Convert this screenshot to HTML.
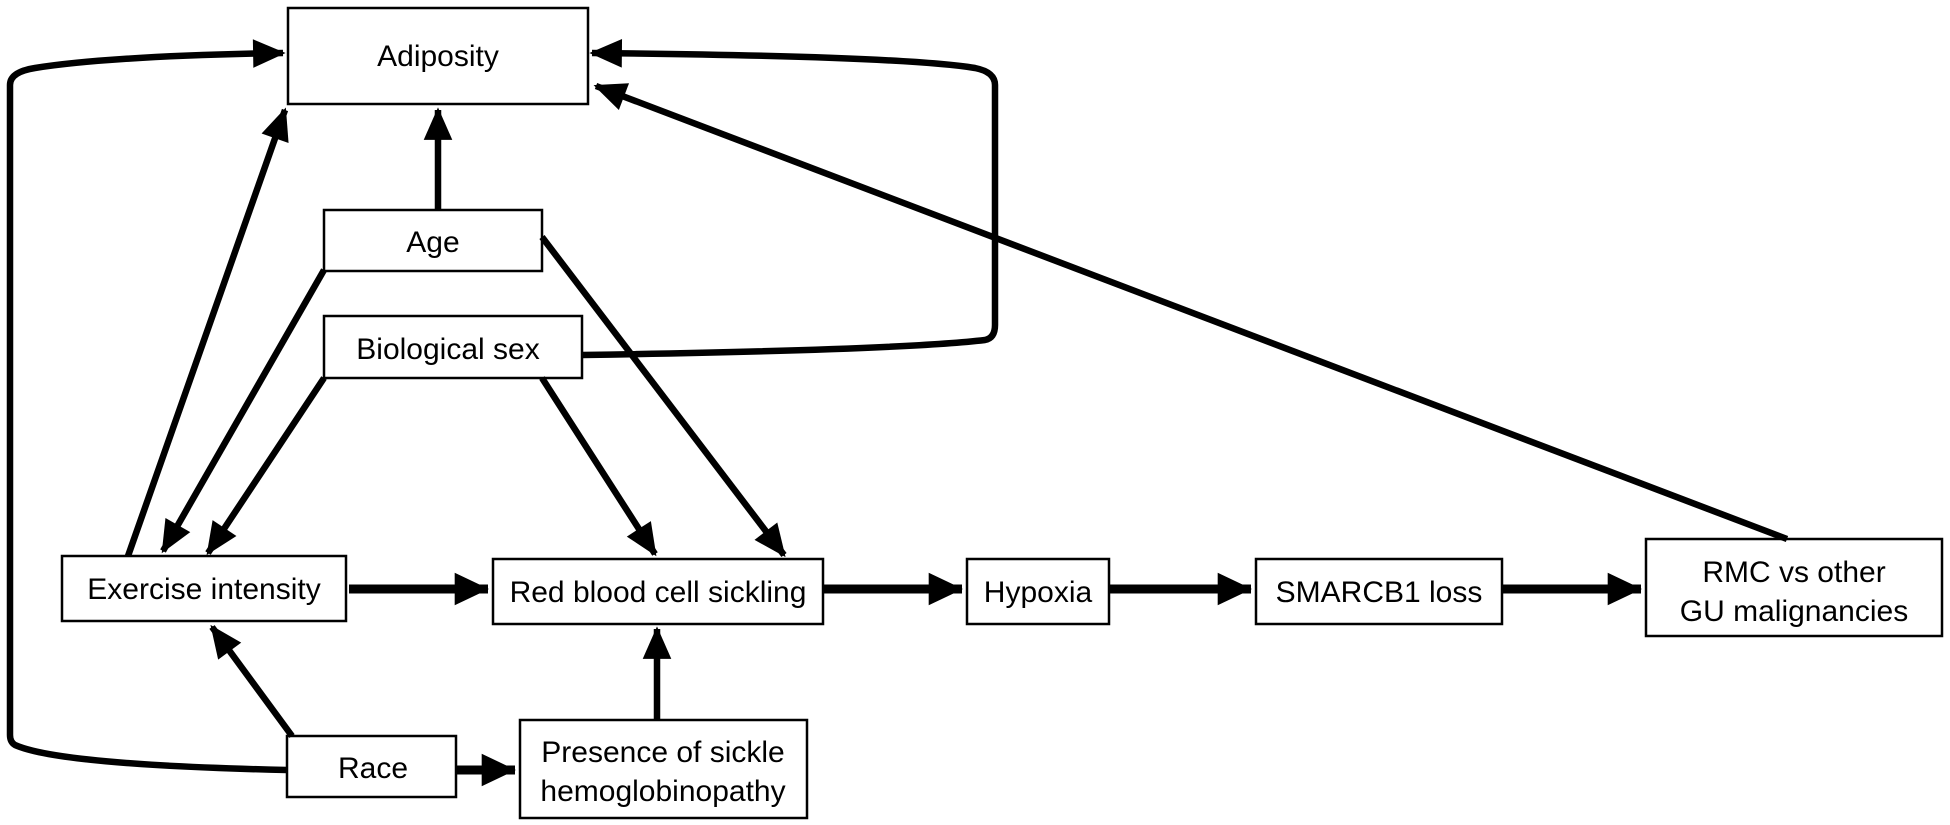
<!DOCTYPE html>
<html><head><meta charset="utf-8"><style>
html,body{margin:0;padding:0;background:#fff;}
svg{display:block;}
text{font-family:"Liberation Sans",Arial,sans-serif;font-size:30px;fill:#000;}
</style></head><body>
<svg width="1950" height="825" viewBox="0 0 1950 825" xmlns="http://www.w3.org/2000/svg">
<defs>
<marker id="a" markerWidth="5" markerHeight="5" refX="4.6" refY="2.5" orient="auto" markerUnits="strokeWidth" overflow="visible">
<path d="M0,0.3 L5,2.5 L0,4.7 Z" fill="#000"/>
</marker>
<marker id="b" markerWidth="4" markerHeight="4" refX="3.7" refY="2" orient="auto" markerUnits="strokeWidth" overflow="visible">
<path d="M0,0.2 L3.8,2 L0,3.8 Z" fill="#000"/>
</marker>
</defs>
<g fill="#fff" stroke="#000" stroke-width="2.5">
<rect x="288" y="8" width="300" height="96"/>
<rect x="324" y="210" width="218" height="61"/>
<rect x="324" y="316" width="258" height="62"/>
<rect x="62" y="556" width="284" height="65"/>
<rect x="493" y="559" width="330" height="65"/>
<rect x="967" y="559" width="142" height="65"/>
<rect x="1256" y="559" width="246" height="65"/>
<rect x="1646" y="539" width="296" height="97"/>
<rect x="287" y="736" width="169" height="61"/>
<rect x="520" y="720" width="287" height="98"/>
</g>
<g fill="none" stroke="#000" stroke-width="6.5" marker-end="url(#a)">
<path d="M287,770 Q60,765 15,745 Q10,742 10,735 L10,85 Q10,72 35,68 Q110,56 283,53"/>
<path d="M582,355 Q900,350 985,340 Q995,338 995,325 L995,85 Q995,72 975,68 Q900,56 592,53"/>
<path d="M1787,539 L596,86"/>
<path d="M128,556 L285,110"/>
<path d="M438,210 L438,110"/>
<path d="M324,270 L163,551"/>
<path d="M324,378 L208,553"/>
<path d="M542,378 L655,554"/>
<path d="M542,237 L784,555"/>
<path d="M292,736 L212,627"/>
<path d="M657,720 L657,629"/>
</g>
<g fill="none" stroke="#000" stroke-width="9" marker-end="url(#b)">
<path d="M349,589 L488,589"/>
<path d="M823,589 L962,589"/>
<path d="M1109,589 L1251,589"/>
<path d="M1502,589 L1641,589"/>
<path d="M456,770 L515,770"/>
</g>
<g text-anchor="middle">
<text x="438" y="66">Adiposity</text>
<text x="433" y="252">Age</text>
<text x="448" y="359">Biological sex</text>
<text x="204" y="599">Exercise intensity</text>
<text x="658" y="602">Red blood cell sickling</text>
<text x="1038" y="602">Hypoxia</text>
<text x="1379" y="602">SMARCB1 loss</text>
<text x="1794" y="582">RMC vs other</text>
<text x="1794" y="621">GU malignancies</text>
<text x="373" y="778">Race</text>
<text x="663" y="762">Presence of sickle</text>
<text x="663" y="801">hemoglobinopathy</text>
</g>
</svg>
</body></html>
